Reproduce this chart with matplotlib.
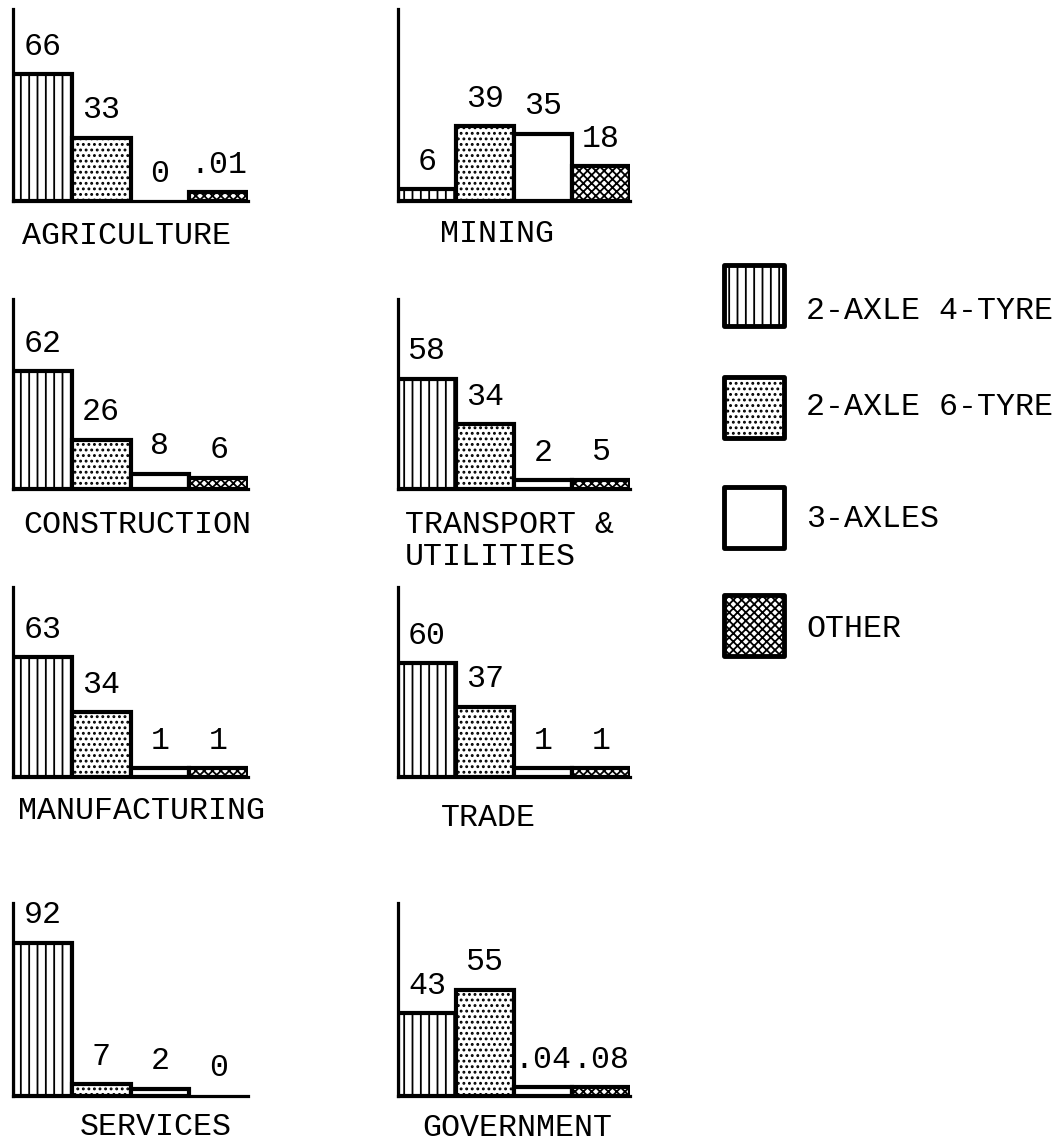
import numpy as np
import matplotlib
matplotlib.use("Agg")
import matplotlib.pyplot as plt
from matplotlib.patches import Rectangle

# data (percent of trucks by type, per sector)
sectors = ['AGRICULTURE', 'MINING', 'CONSTRUCTION', 'TRANSPORT &\nUTILITIES',
           'MANUFACTURING', 'TRADE', 'SERVICES', 'GOVERNMENT']
axle2_tyre4 = [66, 6, 62, 58, 63, 60, 92, 43]
axle2_tyre6 = [33, 39, 26, 34, 34, 37, 7, 55]
axles3 = [0, 35, 8, 2, 1, 1, 2, 0.04]
other = [0.01, 18, 6, 5, 1, 1, 0, 0.08]
truck_types = ['2-AXLE 4-TYRE', '2-AXLE 6-TYRE', '3-AXLES', 'OTHER']

W, H = 1059, 1146
plt.rcParams['font.family'] = ['Liberation Mono', 'DejaVu Sans Mono']
plt.rcParams['hatch.linewidth'] = 1.3
FS = 22.8

hatches = ['||', '...', '', 'xxxx']

fig = plt.figure(figsize=(W / 100, H / 100), dpi=100)

# layout in pixels
col_x = [13, 398]
col_right = [248, 630]
row_base = [201, 489, 777, 1096]
row_top = [9, 299, 587, 903]
ymax = [100, 100, 100, 100, 100, 100, 116, 100]
label_pos = [(126, 236, 'center'), (497, 234, 'center'),
             (137, 525, 'center'), (405, 541, 'left'),
             (141, 811, 'center'), (488, 818, 'center'),
             (156, 1127, 'center'), (517, 1128, 'center')]


def fmt(v):
    if 0 < v < 1:
        return f"{v:.2f}".lstrip('0')
    return f"{v:g}"


def px_box(x0, top, x1, base):
    return [x0 / W, 1 - base / H, (x1 - x0) / W, (base - top) / H]


for i, name in enumerate(sectors):
    r, c = divmod(i, 2)
    ax = fig.add_axes(px_box(col_x[c], row_top[r], col_right[c], row_base[r]))
    vals = np.array([axle2_tyre4[i], axle2_tyre6[i], axles3[i], other[i]], float)
    shown = np.where((vals > 0) & (vals < 4.5), 4.5, vals)
    xs = np.arange(4)
    for j in range(4):
        if vals[j] > 0:
            ax.bar(xs[j], shown[j], width=1, align='edge', facecolor='white',
                   edgecolor='black', linewidth=3, hatch=hatches[j],
                   joinstyle='miter', zorder=2)
        ax.annotate(fmt(vals[j]), (xs[j] + 0.5, shown[j]), xytext=(0, 9),
                    textcoords='offset points', ha='center', va='bottom',
                    fontsize=FS, annotation_clip=False)
    ax.set_xlim(0, 4)
    ax.set_ylim(0, ymax[i])
    for s in ['top', 'right']:
        ax.spines[s].set_visible(False)
    for s in ['left', 'bottom']:
        ax.spines[s].set_linewidth(2.3)
    ax.set_xticks([])
    ax.set_yticks([])
    ax.patch.set_alpha(0)

# canvas for category labels and legend
cv = fig.add_axes([0, 0, 1, 1], zorder=-1)
cv.set_xlim(0, W)
cv.set_ylim(H, 0)
cv.axis('off')

for name, (x, y, ha) in zip(sectors, label_pos):
    cv.text(x, y, name, ha=ha, va='center', fontsize=FS, linespacing=1.1)

box_top = [265, 377, 487, 595]
text_y = [311, 407, 519, 629]
for j, lab in enumerate(truck_types):
    cv.add_patch(Rectangle((724, box_top[j]), 60, 61, facecolor='white',
                           edgecolor='black', linewidth=3.5,
                           hatch=hatches[j], joinstyle='round'))
    cv.text(806, text_y[j], lab, ha='left', va='center', fontsize=FS)

fig.savefig('out.png', dpi=100, facecolor='white')
